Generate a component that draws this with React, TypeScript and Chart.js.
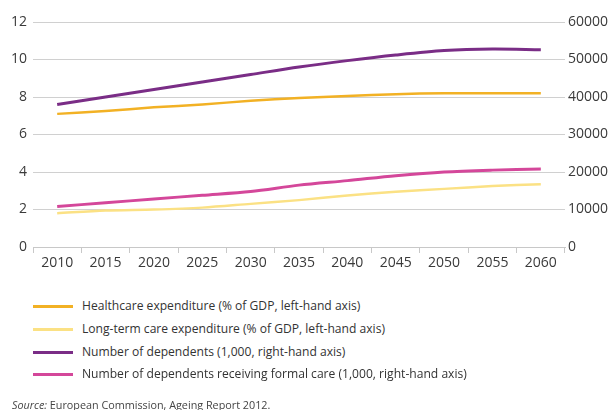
import React, { useEffect, useRef } from "react";
import { Chart, registerables } from "chart.js";

Chart.register(...registerables);

const years = ["2010", "2015", "2020", "2025", "2030", "2035", "2040", "2045", "2050", "2055", "2060"];
const healthcare = [7.1, 7.25, 7.45, 7.6, 7.8, 7.95, 8.05, 8.15, 8.2, 8.2, 8.2];
const longTermCare = [1.8, 1.95, 2.0, 2.1, 2.3, 2.5, 2.75, 2.95, 3.1, 3.25, 3.35];
const dependents = [38000, 40000, 42000, 44000, 46000, 48000, 49700, 51200, 52400, 52800, 52600];
const formalCare = [10800, 11800, 12800, 13800, 14800, 16500, 17700, 19000, 20000, 20500, 20800];

const labels = [
  "Healthcare expenditure (% of GDP, left-hand axis)",
  "Long-term care expenditure (% of GDP, left-hand axis)",
  "Number of dependents (1,000, right-hand axis)",
  "Number of dependents receiving formal care (1,000, right-hand axis)",
];
const colors = ["#f2b124", "#fbe184", "#7a2d86", "#d4479a"];

const FONT = "'Open Sans', 'DejaVu Sans', sans-serif";

export default function App() {
  const ref = useRef<HTMLCanvasElement | null>(null);

  useEffect(() => {
    const canvas = ref.current;
    if (!canvas) return;
    const chart = new Chart(canvas, {
      type: "line",
      data: {
        labels: years,
        datasets: [
          { label: labels[0], data: healthcare, borderColor: colors[0], borderWidth: 2.5, yAxisID: "y", pointRadius: 0, tension: 0.3 },
          { label: labels[1], data: longTermCare, borderColor: colors[1], borderWidth: 2.5, yAxisID: "y", pointRadius: 0, tension: 0.3 },
          { label: labels[2], data: dependents, borderColor: colors[2], borderWidth: 3, yAxisID: "y1", pointRadius: 0, tension: 0.3 },
          { label: labels[3], data: formalCare, borderColor: colors[3], borderWidth: 3, yAxisID: "y1", pointRadius: 0, tension: 0.3 },
        ],
      },
      options: {
        responsive: false,
        animation: false,
        layout: { padding: { top: 22, left: 0, right: 0, bottom: 0 } },
        plugins: { legend: { display: false }, tooltip: { enabled: false } },
        scales: {
          x: {
            type: "category",
            offset: true,
            grid: { display: true, drawOnChartArea: false, drawTicks: true, tickLength: 6, color: "#c8c8c8", offset: true },
            border: { display: true, color: "#c8c8c8" },
            ticks: { color: "#3a3a3a", font: { family: FONT, size: 14 }, padding: 2, maxRotation: 0 },
            afterFit: (s: any) => { s.height = 33; },
          },
          y: {
            position: "left",
            min: 0,
            max: 12,
            ticks: { stepSize: 2, color: "#3a3a3a", font: { family: FONT, size: 14 }, padding: 6 },
            grid: { color: "#d0d0d0", drawTicks: false, lineWidth: 1 },
            border: { display: false },
            afterFit: (s: any) => { s.width = 33; },
          },
          y1: {
            position: "right",
            min: 0,
            max: 60000,
            ticks: {
              stepSize: 10000,
              color: "#3a3a3a",
              font: { family: FONT, size: 14 },
              padding: 3,
              callback: (v: any) => String(v),
            },
            grid: { drawOnChartArea: false, drawTicks: false },
            border: { display: false },
            afterFit: (s: any) => { s.width = 46; },
          },
        },
      },
    });
    return () => chart.destroy();
  }, []);

  return (
    <div style={{ position: "fixed", left: 0, top: 0, width: 611, height: 410, background: "#fff", fontFamily: FONT }}>
      <canvas ref={ref} width={611} height={280} style={{ position: "absolute", left: 0, top: 0, width: 611, height: 280 }} />
      {labels.map((t, i) => (
        <div key={i} style={{ position: "absolute", left: 0, top: [306, 329, 352, 374][i] - 10, height: 20, width: 611 }}>
          <div style={{ position: "absolute", left: 33, top: 8.5, width: 40, height: 3, background: colors[i] }} />
          <div style={{ position: "absolute", left: 82, top: 0, lineHeight: "20px", fontSize: 12.1, color: "#333", whiteSpace: "nowrap" }}>{t}</div>
        </div>
      ))}
      <div style={{ position: "absolute", left: 12, top: 396, lineHeight: "18px", fontSize: 10.8, color: "#444", whiteSpace: "nowrap" }}>
        <i>Source:</i> European Commission, Ageing Report 2012.
      </div>
    </div>
  );
}
